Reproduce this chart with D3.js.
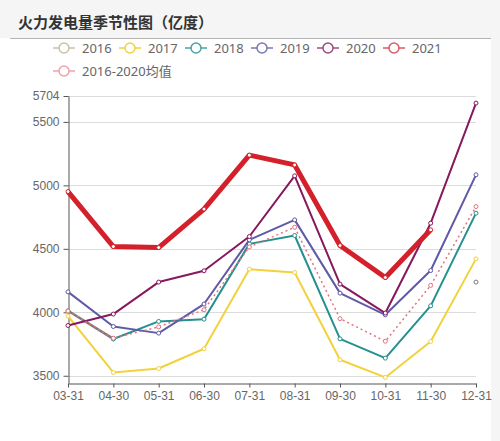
<!DOCTYPE html>
<html>
<head>
<meta charset="utf-8">
<script src="https://cdn.jsdelivr.net/npm/d3@7"></script>
<style>
  body { margin: 0; background: #fff; }
  svg { display: block; font-family: "Noto Sans", "Noto Sans CJK SC", sans-serif; }
</style>
</head>
<body>
<div id="chart"></div>
<script>
// categories and series
let dates = ["03-31", "04-30", "05-31", "06-30", "07-31", "08-31", "09-30", "10-31", "11-30", "12-31"]
let y2016 = [4012, 3791, null, null, null, null, null, null, null, 4238]
let y2017 = [3970, 3526, 3557, 3713, 4340, 4314, 3626, 3487, 3770, 4421]
let y2018 = [null, 3790, 3928, 3946, 4539, 4605, 3791, 3639, 4051, 4781]
let y2019 = [4161, 3888, 3836, 4065, 4571, 4728, 4151, 3980, 4329, 5083]
let y2020 = [3896, 3986, 4238, 4327, 4597, 5075, 4222, 3994, 4702, 5648]
let y2021 = [4951, 4518, 4510, 4813, 5238, 5161, 4526, 4274, 4650, null]
let avg = [4010, 3796, 3885, 4020, 4515, 4670, 3950, 3772, 4212, 4833]
let yTicks = [3500, 4000, 4500, 5000, 5500, 5704]

let series = [
    { name: "2016", values: y2016, color: "#7a7a7a", legend: "#c9c0a8", width: 2.5 },
    { name: "2017", values: y2017, color: "#f2d23c", legend: "#f2d23c", width: 2 },
    { name: "2018", values: y2018, color: "#24908f", legend: "#4aa3a3", width: 2 },
    { name: "2019", values: y2019, color: "#5e5aa6", legend: "#7a77b5", width: 2 },
    { name: "2020", values: y2020, color: "#86195e", legend: "#9b4a7e", width: 2 },
    { name: "2021", values: y2021, color: "#d4202a", legend: "#dc5a66", width: 5 },
    { name: "2016-2020均值", values: avg, color: "#e2737e", legend: "#f0a0a8", width: 1.5, dash: "2,3" }
]

let width = 500,
    height = 441
let svg = d3.select("#chart").append("svg")
    .attr("width", width)
    .attr("height", height)

// page background: grey header band and right strip
svg.append("rect").attr("width", width).attr("height", height).attr("fill", "#ffffff")
svg.append("rect").attr("width", width).attr("height", 38).attr("fill", "#f5f5f5")
svg.append("rect").attr("x", 491).attr("width", 9).attr("height", height).attr("fill", "#f5f5f5")
svg.append("line")
    .attr("x1", 10).attr("x2", 491)
    .attr("y1", 38.5).attr("y2", 38.5)
    .attr("stroke", "#b5b5b5")

svg.append("text")
    .attr("x", 18).attr("y", 28)
    .attr("font-family", "'Noto Sans CJK SC', sans-serif")
    .attr("font-size", 15)
    .attr("font-weight", "bold")
    .attr("fill", "#333")
    .text("火力发电量季节性图（亿度）")

let xScale = d3.scalePoint()
    .domain(dates)
    .range([68, 476])
let yScale = d3.scaleLinear()
    .domain([3443, 5704])
    .range([383, 96])

// grid lines
svg.append("g").selectAll("line")
    .data(yTicks)
    .enter()
    .append("line")
    .attr("x1", 68).attr("x2", 476)
    .attr("y1", function(d) { return Math.round(yScale(d)) + 0.5; })
    .attr("y2", function(d) { return Math.round(yScale(d)) + 0.5; })
    .attr("stroke", "#dcdcdc")

let yAxis = svg.append("g")
    .attr("transform", "translate(68.5,0)")
    .call(d3.axisLeft(yScale).tickValues(yTicks).tickSize(5).tickSizeOuter(0).tickFormat(d3.format("d")))
let xAxis = svg.append("g")
    .attr("transform", "translate(0,383.5)")
    .call(d3.axisBottom(xScale).tickSize(4).tickSizeOuter(0).tickPadding(4))
;[yAxis, xAxis].forEach(function(ax) {
    ax.select(".domain").attr("stroke", "#555")
    ax.selectAll(".tick line").attr("stroke", "#555")
    ax.selectAll("text").attr("fill", "#666").attr("font-size", 12)
})
yAxis.selectAll("text").attr("dx", -1)

let line = d3.line()
    .defined(function(d) { return d != null; })
    .x(function(d, i) { return xScale(dates[i]); })
    .y(function(d) { return yScale(d); })

series.forEach(function(s) {
    let g = svg.append("g")
    g.append("path")
        .datum(s.values)
        .attr("d", line)
        .attr("fill", "none")
        .attr("stroke", s.color)
        .attr("stroke-width", s.width)
        .attr("stroke-dasharray", s.dash || null)
        .attr("stroke-linejoin", "round")
    g.selectAll("circle")
        .data(s.values.map(function(v, i) { return { v: v, i: i }; }).filter(function(d) { return d.v != null; }))
        .enter()
        .append("circle")
        .attr("cx", function(d) { return xScale(dates[d.i]); })
        .attr("cy", function(d) { return yScale(d.v); })
        .attr("r", 2)
        .attr("fill", "#fff")
        .attr("stroke", s.color)
        .attr("stroke-width", 1)
})

// legend
let legend = svg.append("g").selectAll("g")
    .data(series)
    .enter()
    .append("g")
    .attr("transform", function(d, i) {
        let col = i < 6 ? i : 0
        let row = i < 6 ? 0 : 1
        return "translate(" + (53 + col * 66) + "," + (48 + row * 23) + ")"
    })
legend.append("line")
    .attr("x1", 0).attr("x2", 22)
    .attr("stroke", function(d) { return d.legend; })
    .attr("stroke-width", 1.5)
legend.append("circle")
    .attr("cx", 11).attr("r", 5)
    .attr("fill", "#fff")
    .attr("stroke", function(d) { return d.legend; })
    .attr("stroke-width", 1.5)
legend.append("text")
    .attr("x", 29).attr("dy", "0.35em")
    .attr("font-size", 13)
    .attr("fill", "#666")
    .text(function(d) { return d.name; })
</script>
</body>
</html>
